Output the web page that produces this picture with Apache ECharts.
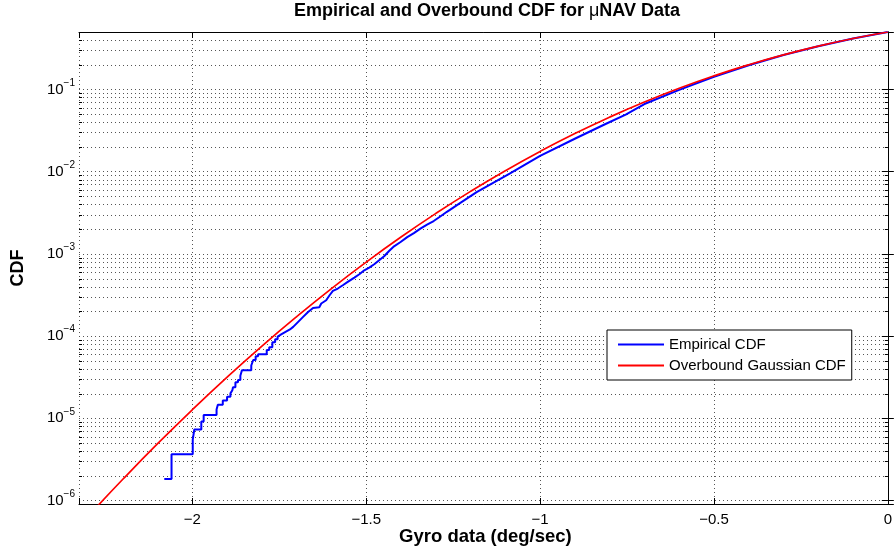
<!DOCTYPE html>
<html>
<head>
<meta charset="utf-8">
<script src="https://cdn.jsdelivr.net/npm/echarts@6/dist/echarts.min.js"></script>
<style>
  html, body { margin: 0; padding: 0; background: #fff; }
  #main { width: 895px; height: 555px; }
</style>
</head>
<body>
<div id="main"></div>
<script>
// Empirical CDF of the gyro samples (stair corners in the sparse tail, then the dense part)
const empX = [
  -2.0807, -2.0599, -2.0599, -1.9989, -1.9989, -1.9943, -1.9943, -1.9743, -1.9743, -1.9675,
  -1.9675, -1.9304, -1.9304, -1.9267, -1.9267, -1.9125, -1.9125, -1.9002, -1.9002, -1.8905,
  -1.8905, -1.8850, -1.8850, -1.8831, -1.8831, -1.8762, -1.8762, -1.8688, -1.8688, -1.8620,
  -1.8620, -1.8574, -1.8574, -1.8306, -1.8306, -1.8250, -1.8250, -1.8180, -1.8180, -1.8110,
  -1.8110, -1.7861, -1.7861, -1.7790, -1.7790, -1.7700, -1.7700, -1.7620, -1.7620, -1.7548,
  -1.7548, -1.7434, -1.7320, -1.7194, -1.7100, -1.6957, -1.6815, -1.6672, -1.6530, -1.6350,
  -1.6293, -1.6151, -1.6054, -1.5959, -1.5817, -1.5674, -1.5532, -1.5341, -1.5198, -1.5056,
  -1.4913, -1.4770, -1.4628, -1.4485, -1.4343, -1.4200, -1.4012, -1.3821, -1.3630, -1.3442,
  -1.3251, -1.3060, -1.2871, -1.2680, -1.2250, -1.1825, -1.0876, -1.0000, -0.8973, -0.8118,
  -0.7539, -0.7000, -0.6000, -0.5000, -0.4000, -0.3000, -0.2000, -0.1000, 0.0000
];
const empY = [
  1.83e-6, 1.83e-6, 3.66e-6, 3.66e-6, 5.49e-6, 5.49e-6, 7.32e-6, 7.32e-6, 9.15e-6, 9.15e-6,
  1.10e-5, 1.10e-5, 1.28e-5, 1.28e-5, 1.46e-5, 1.46e-5, 1.65e-5, 1.65e-5, 1.83e-5, 1.83e-5,
  2.01e-5, 2.01e-5, 2.20e-5, 2.20e-5, 2.38e-5, 2.38e-5, 2.74e-5, 2.74e-5, 2.93e-5, 2.93e-5,
  3.29e-5, 3.29e-5, 3.84e-5, 3.84e-5, 4.39e-5, 4.39e-5, 5.12e-5, 5.12e-5, 5.67e-5, 5.67e-5,
  6.03e-5, 6.03e-5, 6.76e-5, 6.76e-5, 7.31e-5, 7.31e-5, 8.41e-5, 8.41e-5, 9.14e-5, 9.14e-5,
  9.87e-5, 1.054e-4, 1.125e-4, 1.203e-4, 1.294e-4, 1.489e-4, 1.712e-4, 1.967e-4, 2.20e-4, 2.24e-4,
  2.49e-4, 2.73e-4, 3.14e-4, 3.54e-4, 3.79e-4, 4.15e-4, 4.56e-4, 5.15e-4, 5.65e-4, 6.32e-4,
  6.82e-4, 7.48e-4, 8.36e-4, 9.35e-4, 1.084e-3, 1.236e-3, 1.395e-3, 1.60e-3, 1.79e-3, 2.03e-3,
  2.27e-3, 2.51e-3, 2.85e-3, 3.25e-3, 4.30e-3, 5.65e-3, 9.46e-3, 1.56e-2, 2.55e-2, 3.80e-2,
  4.95e-2, 0.0665, 0.0990, 0.1430, 0.1970, 0.2620, 0.3358, 0.4160, 0.4995
];

// Overbounding Gaussian CDF
const gaussX = [
  -2.28, -2.2, -2.1, -2.0, -1.9, -1.8, -1.7, -1.6, -1.5, -1.4, -1.3, -1.2,
  -1.1, -1.0, -0.9, -0.8, -0.7, -0.6, -0.5, -0.4, -0.3, -0.2, -0.1, 0.0
];
const gaussY = [
  7.93e-7, 1.813e-6, 4.908e-6, 1.273e-5, 3.167e-5, 7.55e-5, 1.724e-4, 3.78e-4, 7.94e-4, 1.602e-3, 3.10e-3, 5.76e-3,
  1.028e-2, 1.763e-2, 2.907e-2, 4.607e-2, 7.029e-2, 0.1033, 0.1463, 0.1999, 0.2638, 0.3368, 0.4166, 0.5
];

const seriesNames = ['Empirical CDF', 'Overbound Gaussian CDF'];
const xLabel = 'Gyro data (deg/sec)';
const yLabel = 'CDF';

const X_MIN = -2.326, X_MAX = 0;
const Y_MIN = 9.07e-7, Y_MAX = 0.5;

const FONT = "'Liberation Sans', Arial, Helvetica, sans-serif";
const GRID_COLOR = '#555';

const zip = (xs, ys) => xs.map((x, i) => [x, ys[i]]);

function xTickLabel(v) {
  const q = v / 0.5;
  if (Math.abs(q - Math.round(q)) > 1e-6) return '';
  if (Math.abs(v) < 1e-9) return '0';
  return (v < 0 ? '\u2212' : '') + String(+Math.abs(v).toFixed(2));
}
function yTickLabel(v) {
  const e = Math.log10(v);
  const r = Math.round(e);
  if (Math.abs(e - r) > 1e-6) return '';
  return '{b|10}{e|' + (r < 0 ? '\u2212' + (-r) : r) + '}';
}

const baseX = {
  type: 'value', min: X_MIN, max: X_MAX, splitNumber: 5,
  axisLine: { show: true, onZero: false, lineStyle: { color: '#000', width: 1 } },
  axisTick: { show: true, inside: true, length: 6, lineStyle: { color: '#000' } }
};
const baseY = {
  type: 'log', logBase: 10, min: Y_MIN, max: Y_MAX,
  axisLine: { show: true, lineStyle: { color: '#000', width: 1 } },
  axisTick: { show: true, inside: true, length: 6, lineStyle: { color: '#000' } }
};

const option = {
  animation: false,
  backgroundColor: '#fff',
  title: {
    text: '{t|Empirical and Overbound CDF for }{m|μ}{t|NAV Data}',
    left: 487, top: 2, padding: 0, textAlign: 'center',
    textStyle: {
      rich: {
        t: { fontFamily: FONT, fontSize: 18, fontWeight: 'bold', color: '#000' },
        m: { fontFamily: FONT, fontSize: 18, fontWeight: 'normal', color: '#000' }
      }
    }
  },
  grid: { left: 79, right: 1, top: 32, bottom: 51, containLabel: false },
  legend: {
    data: seriesNames,
    orient: 'vertical',
    left: 607, top: 330,
    itemWidth: 46, itemHeight: 14, itemGap: 6,
    padding: [7, 6, 7, 10],
    backgroundColor: '#fff', borderColor: '#000', borderWidth: 1, borderRadius: 0,
    itemStyle: { opacity: 0 },
    textStyle: { fontFamily: FONT, fontSize: 15, color: '#000' }
  },
  xAxis: [
    Object.assign({}, baseX, {
      position: 'bottom',
      axisLabel: { show: true, margin: 8, fontFamily: FONT, fontSize: 15, color: '#000', formatter: xTickLabel,
        showMinLabel: true, showMaxLabel: true, hideOverlap: false },
      splitLine: { show: true, lineStyle: { color: GRID_COLOR, width: 1, type: [1, 3] } }
    }),
    Object.assign({}, baseX, {
      position: 'top',
      axisLabel: { show: false },
      splitLine: { show: false }
    })
  ],
  yAxis: [
    Object.assign({}, baseY, {
      position: 'left',
      axisLabel: {
        show: true, margin: 4, formatter: yTickLabel, hideOverlap: false,
        rich: {
          b: { fontFamily: FONT, fontSize: 15, color: '#000' },
          e: { fontFamily: FONT, fontSize: 10, color: '#000', padding: [0, 0, 13, 0] }
        }
      },
      splitLine: { show: true, lineStyle: { color: GRID_COLOR, width: 1, type: [1, 3] } }
    }),
    Object.assign({}, baseY, {
      position: 'right',
      axisLabel: { show: false },
      splitLine: { show: false }
    })
  ],
  series: [
    {
      name: seriesNames[0], type: 'line', xAxisIndex: 0, yAxisIndex: 0,
      data: zip(empX, empY),
      symbol: 'none', showSymbol: false, clip: true,
      lineStyle: { color: '#0000ff', width: 2 },
      itemStyle: { color: '#0000ff' },
      z: 3
    },
    {
      name: seriesNames[1], type: 'line', xAxisIndex: 0, yAxisIndex: 0,
      data: zip(gaussX, gaussY),
      symbol: 'none', showSymbol: false, smooth: true, clip: true,
      lineStyle: { color: '#ff0000', width: 1.7 },
      itemStyle: { color: '#ff0000' },
      z: 4
    }
  ]
};

const chart = echarts.init(document.getElementById('main'), null, { renderer: 'canvas' });
chart.setOption(option);

// Minor decade grid lines and minor ticks (2..9 x 10^k) on both vertical axes,
// plus the axis titles.
const x0 = chart.convertToPixel({ xAxisIndex: 0 }, X_MIN);
const x1 = chart.convertToPixel({ xAxisIndex: 0 }, X_MAX);
const yTop = chart.convertToPixel({ yAxisIndex: 0 }, Y_MAX);
const yBot = chart.convertToPixel({ yAxisIndex: 0 }, Y_MIN);
const elements = [];
for (let k = -7; k <= 0; k++) {
  for (let m = 2; m <= 9; m++) {
    const v = m * Math.pow(10, k);
    if (v <= Y_MIN || v >= Y_MAX) continue;
    const y = Math.round(chart.convertToPixel({ yAxisIndex: 0 }, v)) + 0.5;
    elements.push({ type: 'line', silent: true, z: 1,
      shape: { x1: x0, y1: y, x2: x1, y2: y },
      style: { stroke: GRID_COLOR, lineWidth: 1, lineDash: [1, 3] } });
    elements.push({ type: 'line', silent: true, z: 10,
      shape: { x1: x0, y1: y, x2: x0 + 3, y2: y },
      style: { stroke: '#000', lineWidth: 1 } });
    elements.push({ type: 'line', silent: true, z: 10,
      shape: { x1: x1 - 3, y1: y, x2: x1, y2: y },
      style: { stroke: '#000', lineWidth: 1 } });
  }
}
const midX = (x0 + x1) / 2;
const midY = (yTop + yBot) / 2;
elements.push({ type: 'text', silent: true, z: 10, x: midX + 2, y: 537,
  style: { text: xLabel, font: "bold 18.5px " + FONT, fill: '#000',
    align: 'center', verticalAlign: 'middle', textAlign: 'center', textVerticalAlign: 'middle' } });
elements.push({ type: 'text', silent: true, z: 10, x: 18, y: midY, rotation: Math.PI / 2,
  style: { text: yLabel, font: "bold 18px " + FONT, fill: '#000',
    align: 'center', verticalAlign: 'middle', textAlign: 'center', textVerticalAlign: 'middle' } });
chart.setOption({ graphic: { elements: elements } });
</script>
</body>
</html>
